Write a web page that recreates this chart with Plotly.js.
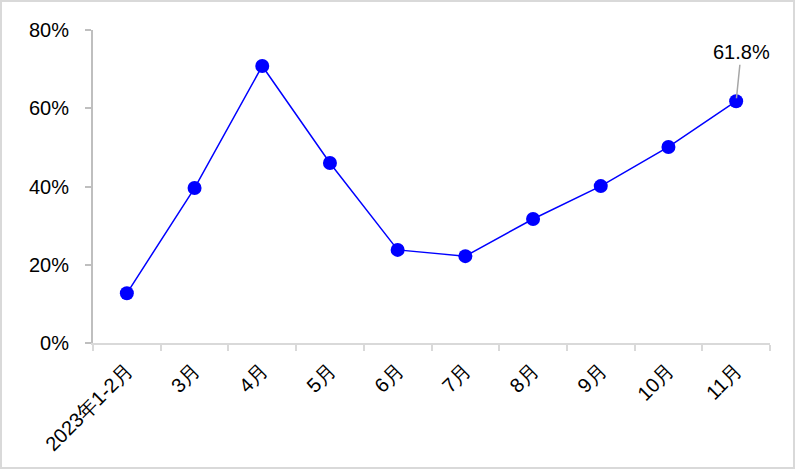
<!DOCTYPE html>
<html>
<head>
<meta charset="utf-8">
<script src="https://cdn.plot.ly/plotly-3.0.1.min.js"></script>
<style>
html,body{margin:0;padding:0;background:#fff;}
#wrap{width:795px;height:469px;box-sizing:border-box;border:2px solid #d9d9d9;overflow:hidden;}
#chart{width:791px;height:465px;}
</style>
</head>
<body>
<div id="wrap"><div id="chart"></div></div>
<script>
const categories = ["2023年1-2月","3月","4月","5月","6月","7月","8月","9月","10月","11月"];
const values = [12.7, 39.6, 70.8, 46.0, 23.8, 22.2, 31.7, 40.1, 50.1, 61.8];
const yTicks = [0, 20, 40, 60, 80];
const yTickLabels = ["0%","20%","40%","60%","80%"];
const labelIndex = 9;
const labelText = "61.8%";

const font = {family: "Liberation Sans, Arial, sans-serif", size: 20, color: "#000"};

Plotly.newPlot("chart", [{
  type: "scatter",
  mode: "lines+markers",
  x: categories,
  y: values,
  line: {color: "#0000ff", width: 1.5},
  marker: {color: "#0000ff", size: 14},
  hoverinfo: "skip"
}], {
  width: 791, height: 465,
  margin: {l: 91, r: 23, t: 28, b: 124},
  paper_bgcolor: "#fff", plot_bgcolor: "#fff",
  showlegend: false,
  font: font,
  xaxis: {
    type: "category",
    showline: true, linecolor: "#d9d9d9", linewidth: 2,
    ticks: "outside", tickson: "boundaries", ticklen: 6, tickcolor: "#d9d9d9", tickwidth: 2,
    tickangle: -45, tickfont: font,
    ticklabelstandoff: 6,
    showgrid: false, zeroline: false,
    range: [-0.5, 9.5]
  },
  yaxis: {
    range: [0, 80],
    tickvals: yTicks, ticktext: yTickLabels,
    showline: true, linecolor: "#bfbfbf", linewidth: 2,
    ticks: "outside", ticklen: 6, tickcolor: "#bfbfbf", tickwidth: 2,
    ticklabelstandoff: 12,
    tickfont: font,
    showgrid: false, zeroline: false
  },
  annotations: [{
    x: categories[labelIndex], y: values[labelIndex],
    text: labelText, font: font,
    showarrow: true, arrowhead: 0, arrowwidth: 1.5, arrowcolor: "#a6a6a6",
    ax: 5, ay: -49, standoff: 3
  }]
}, {displayModeBar: false, staticPlot: true});
</script>
</body>
</html>
